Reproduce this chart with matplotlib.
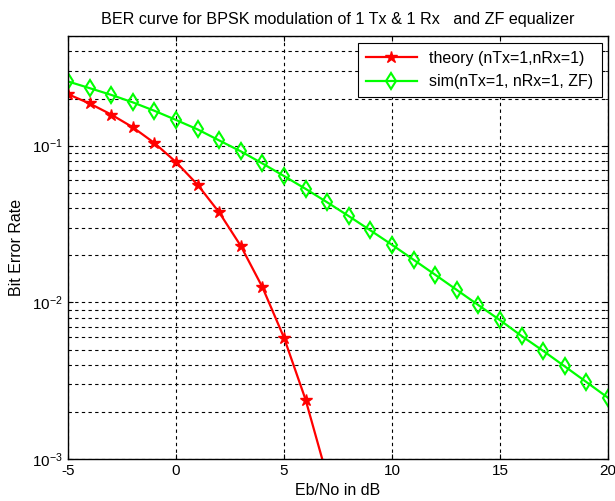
import matplotlib
matplotlib.use("Agg")
import matplotlib.pyplot as plt
from matplotlib.ticker import LogLocator, FixedLocator, NullFormatter

plt.rcParams["font.family"] = ["Liberation Sans", "DejaVu Sans"]
plt.rcParams["mathtext.fontset"] = "custom"
plt.rcParams["mathtext.rm"] = "Liberation Sans"
plt.rcParams["axes.unicode_minus"] = False

# values
ebno_theory = [-5, -4, -3, -2, -1, 0, 1, 2, 3, 4, 5, 6, 7]
ber_theory = [0.213, 0.186, 0.158, 0.131, 0.104, 0.0786, 0.0563, 0.0375,
              0.0229, 0.0125, 0.00595, 0.00239, 0.00077]

ebno_sim = list(range(-5, 21))
ber_sim = [0.257, 0.233, 0.211, 0.189, 0.167, 0.146, 0.127, 0.108, 0.092,
           0.077, 0.064, 0.053, 0.0435, 0.0355, 0.0288, 0.0233, 0.0187,
           0.0150, 0.0120, 0.0096, 0.0077, 0.0061, 0.0049, 0.0039, 0.0031,
           0.00246]

fig = plt.figure(figsize=(6.15, 5.01), dpi=100)
ax = fig.add_axes([0.1106, 0.0838, 0.878, 0.844])

ax.semilogy(ebno_theory, ber_theory, "r-*", lw=1.6, ms=9, mec="r",
            label="theory (nTx=1,nRx=1)")
ax.semilogy(ebno_sim, ber_sim, "-d", color="#00ff00", lw=1.6, ms=8,
            mfc="none", mec="#00ff00", mew=1.5,
            label="sim(nTx=1, nRx=1, ZF)")

ax.set_xlim(-5, 20)
ax.set_ylim(1e-3, 0.5)
ax.xaxis.set_major_locator(FixedLocator([-5, 0, 5, 10, 15, 20]))
ax.yaxis.set_major_locator(LogLocator(base=10, numticks=10))
ax.yaxis.set_minor_locator(LogLocator(base=10, subs=range(2, 10), numticks=20))
ax.yaxis.set_minor_formatter(NullFormatter())

ax.grid(True, which="major", axis="x", color="k", ls=(0, (3, 3)), lw=0.8)
ax.grid(True, which="both", axis="y", color="k", ls=(0, (3, 3)), lw=0.8)
ax.tick_params(which="both", direction="in", top=True, right=True,
               labelsize=11)
for s in ax.spines.values():
    s.set_linewidth(1.0)

ax.set_title("BER curve for BPSK modulation of 1 Tx & 1 Rx   and ZF equalizer",
             fontsize=11.6, pad=9)
ax.set_xlabel("Eb/No in dB", fontsize=11.5, labelpad=4)
ax.set_ylabel("Bit Error Rate", fontsize=11.5, labelpad=6)

leg = ax.legend(loc="upper right", fontsize=11.5, fancybox=False,
                edgecolor="k", framealpha=1, borderaxespad=0.4,
                handlelength=3.2, borderpad=0.5, labelspacing=0.55)
leg.get_frame().set_linewidth(0.8)

fig.savefig("out.png", dpi=100)
